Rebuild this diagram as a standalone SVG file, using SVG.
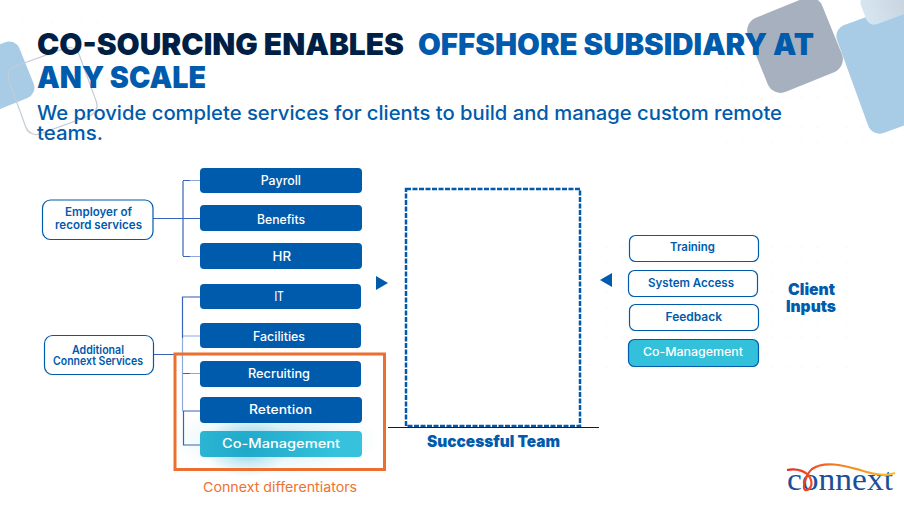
<svg xmlns="http://www.w3.org/2000/svg" width="904" height="507" viewBox="0 0 904 507">
<style>
text{font-family:"Inter","Noto Sans","Liberation Sans",sans-serif}
.t{font-size:30px;font-weight:900}
.navy{fill:#001f45}
.blue{fill:#005bac}
.sub{font-size:20px;font-weight:500;fill:#005bac}
.solid{fill:#005bac}
.out{fill:#fff;stroke:#005bac;stroke-width:1.2}
.w{font-size:12.5px;font-weight:500;fill:#fff}
.b{font-size:11.5px;font-weight:600;fill:#005bac}
.h{font-size:15.5px;font-weight:900;fill:#005bac}
.c{fill:none;stroke:#3a62b8;stroke-width:1.2}
.l{fill:none;stroke:#8fa8de;stroke-width:1.2}
</style>
<defs>
<pattern id="dots" width="15" height="15" patternUnits="userSpaceOnUse"><circle cx="7" cy="7" r="0.6" fill="#e6ebf1"/></pattern>
<linearGradient id="pale" x1="0" y1="0" x2="1" y2="0"><stop offset="0" stop-color="#d6e6f1"/><stop offset="1" stop-color="#b9c2cc"/></linearGradient>
<radialGradient id="glow"><stop offset="0" stop-color="#33b4d4" stop-opacity="0.6"/><stop offset="0.55" stop-color="#33b4d4" stop-opacity="0.2"/><stop offset="1" stop-color="#33b4d4" stop-opacity="0"/></radialGradient>
<radialGradient id="teal" gradientUnits="userSpaceOnUse" cx="246" cy="448" r="90"><stop offset="0" stop-color="#20a8c9"/><stop offset="1" stop-color="#36c2dc"/></radialGradient>
<linearGradient id="swoosh" gradientUnits="userSpaceOnUse" x1="787" y1="470" x2="895" y2="473"><stop offset="0" stop-color="#e5252a"/><stop offset="0.45" stop-color="#f37b20"/><stop offset="1" stop-color="#f7c22e"/></linearGradient>
</defs>
<rect width="904" height="507" fill="#fff"/>
<g id="background">
<rect x="10" y="15" width="110" height="100" fill="url(#dots)"/>
<rect x="700" y="60" width="204" height="90" fill="url(#dots)"/>
<rect x="600" y="225" width="260" height="150" fill="url(#dots)"/>
<rect width="84" height="60" x="-84" y="-2" rx="11" transform="translate(16 40) rotate(-22)" fill="#a8cbe6"/>
<rect x="0" y="0" width="75" height="72" rx="11" transform="translate(5 70) rotate(-20)" fill="none" stroke="#c3ccd6" stroke-width="1.2"/>
<rect x="0" y="0" width="115" height="115" rx="12" transform="translate(833 29) rotate(-20)" fill="#a8cbe6"/>
<rect x="0" y="0" width="90" height="32" rx="9" transform="translate(858 -3) rotate(-20)" fill="url(#pale)"/>
<rect x="-40" y="-40" width="80" height="80" rx="14" transform="translate(795 45) rotate(-22)" fill="#a7b0be"/>
</g>
<g id="title">
<text class="t navy" x="37" y="55" textLength="367" lengthAdjust="spacingAndGlyphs">CO-SOURCING ENABLES</text>
<text class="t blue" x="418" y="55" textLength="396" lengthAdjust="spacingAndGlyphs">OFFSHORE SUBSIDIARY AT</text>
<text class="t blue" x="37" y="88" textLength="169" lengthAdjust="spacingAndGlyphs">ANY SCALE</text>
<text class="sub" x="37" y="120" textLength="745" lengthAdjust="spacingAndGlyphs">We provide complete services for clients to build and manage custom remote</text>
<text class="sub" x="37" y="140" textLength="66" lengthAdjust="spacingAndGlyphs">teams.</text>
</g>
<ellipse cx="275" cy="440" rx="105" ry="36" fill="url(#glow)" opacity="0.55"/>
<ellipse cx="246" cy="447" rx="42" ry="30" fill="url(#glow)"/>
<g id="connectors">
<path class="c" d="M153 218.500H200M183 181V256M183 180.500H190M183 256.500H190"/>
<path class="l" d="M190 180.500H200M190 256.500H200"/>
<path class="c" d="M153 354.500H183M200 297H182.500V338M183 373.500H190M182.500 411H200M183.500 411V445H200"/>
<path class="l" d="M190 296.800H200M182.500 338V411M190 336H200M183 336H190M190 373.500H200"/>
</g>
<g id="payroll"><rect class="solid" x="200" y="168" width="162" height="25" rx="4"/><text class="w" x="260.700" y="185" textLength="40.300" lengthAdjust="spacingAndGlyphs">Payroll</text></g>
<g id="benefits"><rect class="solid" x="200" y="205" width="162" height="26" rx="4"/><text class="w" x="257" y="224" textLength="48" lengthAdjust="spacingAndGlyphs">Benefits</text></g>
<g id="hr"><rect class="solid" x="200" y="243" width="162" height="26" rx="4"/><text class="w" x="272.500" y="261" textLength="18.500" lengthAdjust="spacingAndGlyphs">HR</text></g>
<g id="it"><rect class="solid" x="200" y="284" width="161" height="25" rx="4"/><text class="w" x="274.500" y="301" textLength="9" lengthAdjust="spacingAndGlyphs">IT</text></g>
<g id="facilities"><rect class="solid" x="200" y="323" width="161" height="25" rx="4"/><text class="w" x="253" y="341" textLength="52" lengthAdjust="spacingAndGlyphs">Facilities</text></g>
<g id="recruiting"><rect class="solid" x="200" y="361" width="161" height="26" rx="4"/><text class="w" x="248" y="378" textLength="62" lengthAdjust="spacingAndGlyphs">Recruiting</text></g>
<g id="retention"><rect class="solid" x="200" y="397" width="162" height="26" rx="4"/><text class="w" x="249" y="414" textLength="63" lengthAdjust="spacingAndGlyphs">Retention</text></g>
<g id="co-management-left"><rect x="200" y="431" width="162" height="26" rx="4" fill="url(#teal)"/><text class="w" x="222" y="448" textLength="118" lengthAdjust="spacingAndGlyphs">Co-Management</text></g>
<g id="employer"><rect class="out" x="42.500" y="200" width="110.500" height="39.500" rx="8"/><text class="b" x="65" y="216" textLength="67" lengthAdjust="spacingAndGlyphs">Employer of</text><text class="b" x="55" y="229" textLength="87" lengthAdjust="spacingAndGlyphs">record services</text></g>
<g id="additional"><rect class="out" x="44.500" y="335.500" width="109" height="39" rx="8"/><text class="b" x="72" y="354" textLength="52" lengthAdjust="spacingAndGlyphs">Additional</text><text class="b" x="53" y="365" textLength="90" lengthAdjust="spacingAndGlyphs">Connext Services</text></g>
<g id="differentiators">
<rect x="175" y="354" width="209.500" height="115.500" fill="none" stroke="#ec6f2f" stroke-width="3"/>
<text x="203" y="492" font-size="13" font-weight="400" fill="#ee7130" textLength="154" lengthAdjust="spacingAndGlyphs">Connext differentiators</text>
</g>
<g id="successful-team">
<rect x="406" y="189" width="174" height="237" fill="none" stroke="#005bac" stroke-width="2.500" stroke-dasharray="5 1.500"/>
<path d="M388 427.500H599" stroke="#001f45" stroke-width="1.200" fill="none"/>
<text class="h" x="427" y="447" textLength="133" lengthAdjust="spacingAndGlyphs">Successful Team</text>
</g>
<path id="arrow-left" class="solid" d="M376 276L388 283L376 290Z"/>
<path id="arrow-right" class="solid" d="M612 273L600 280L612 287Z"/>
<g id="training"><rect class="out" x="629.500" y="235.500" width="129" height="26" rx="6"/><text class="b" x="670" y="251" textLength="45" lengthAdjust="spacingAndGlyphs">Training</text></g>
<g id="system-access"><rect class="out" x="628.500" y="270.500" width="129" height="26" rx="6"/><text class="b" x="648" y="287" textLength="86" lengthAdjust="spacingAndGlyphs">System Access</text></g>
<g id="feedback"><rect class="out" x="629.500" y="304.500" width="129" height="26" rx="6"/><text class="b" x="665.500" y="321" textLength="56.500" lengthAdjust="spacingAndGlyphs">Feedback</text></g>
<g id="co-management-right"><rect x="628.500" y="339.500" width="130" height="27" rx="6" fill="#33c0db" stroke="#005bac" stroke-width="1.200"/><text class="w" x="643" y="356" textLength="100" lengthAdjust="spacingAndGlyphs" style="font-size:11.500px">Co-Management</text></g>
<g id="client-inputs">
<text class="h" x="788" y="295" textLength="47" lengthAdjust="spacingAndGlyphs">Client</text>
<text class="h" x="786" y="312" textLength="50" lengthAdjust="spacingAndGlyphs">Inputs</text>
</g>
<g id="logo">
<text x="787" y="490" font-size="31" textLength="106" lengthAdjust="spacingAndGlyphs" fill="#1c4f97" style="font-family:'Liberation Serif',serif">connext</text>
<path d="M787 470C797 468 808 471 811 480C813 487 808 491 805 490C802 488 806 474 812 469C825 460 845 466 860 470C872 474 885 477 895 473" fill="none" stroke="url(#swoosh)" stroke-width="2.200"/>
</g>
</svg>
